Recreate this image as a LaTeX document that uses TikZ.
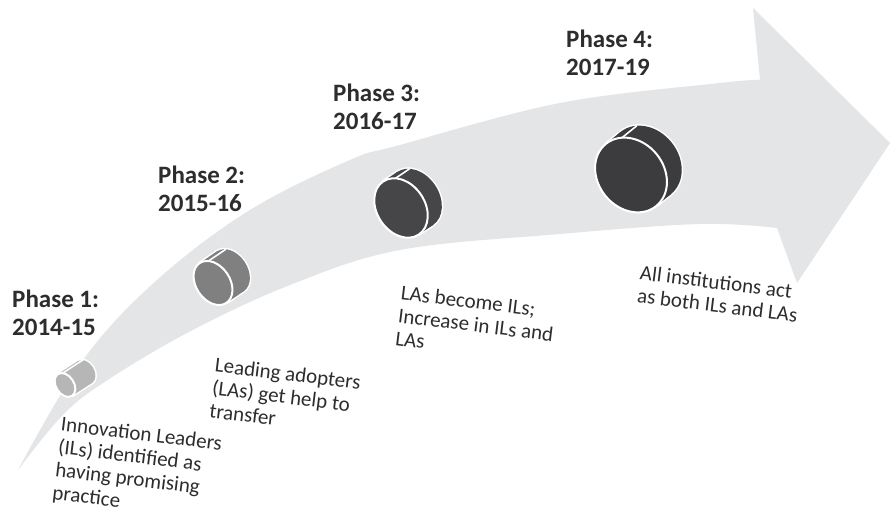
\documentclass[tikz,border=0pt]{standalone}
\usepackage{fontspec}
\setmainfont{Carlito}
\definecolor{arrowgray}{RGB}{228,229,231}
\definecolor{textgray}{RGB}{45,45,45}
\definecolor{cylA}{RGB}{182,182,182}
\definecolor{cylB}{RGB}{128,128,128}
\definecolor{cylC}{RGB}{70,70,72}
\definecolor{cylD}{RGB}{60,60,62}
\newcommand\cylshape[7]{%
\begin{scope}[shift={(#1,#2)},rotate=#3]
 \draw[white,line width=3] (#4,0) ellipse [x radius=#5, y radius=#6];
 \draw[white,line width=3] (0,#6) -- (#4,#6) (0,-#6) -- (#4,-#6);
 \fill[#7] (#4,0) ellipse [x radius=#5, y radius=#6];
 \fill[#7] (0,-#6) rectangle (#4,#6);
 \filldraw[fill=#7, draw=white, line width=2] (0,0) ellipse [x radius=#5, y radius=#6];
 \draw[white, line width=1.6] ({#5*cos(60)},{#6*sin(60)}) -- ++(#4,0);
\end{scope}}
\begin{document}
\begin{tikzpicture}[x=1pt,y=1pt,
  phase/.style={font=\bfseries\fontsize{25}{28}\selectfont, text=textgray, align=left, inner sep=0, anchor=north west},
  desc/.style={font=\fontsize{21}{23}\selectfont, text=textgray, align=left, inner sep=0, anchor=north west, rotate=-7}]
\useasboundingbox (0,0) rectangle (890,513);
\fill[white] (0,0) rectangle (890,513);
% curved arrow
\fill[arrowgray] plot[smooth,tension=0.6] coordinates {(18,43) (83,153) (157,233) (250,303) (350,353) (400,368) (560,410) (720,430) (760,433)}
  -- (753,505) -- (890,370) -- (797,230) -- (777,285)
  -- plot[smooth,tension=0.6] coordinates {(777,285) (700,289) (560,279) (400,263) (290,228) (187,180) (100,128) (60,95) (18,43)} -- cycle;
% cylinders
\cylshape{65}{128}{33}{24}{9}{13}{cylA}
\cylshape{213}{230}{34}{21}{17}{24}{cylB}
\cylshape{401}{305}{34}{17}{24}{32}{cylC}
\cylshape{631}{338}{39}{19}{33}{40}{cylD}
% phase labels
\node[phase] (p1) at (12,223) {Phase 1:\\2014-15};
\node[phase] (p2) at (158,347) {Phase 2:\\2015-16};
\node[phase] (p3) at (333,429) {Phase 3:\\2016-17};
\node[phase] (p4) at (566,483) {Phase 4:\\2017-19};
% descriptions
\node[desc] (d1) at (62,97) {Innovation Leaders\\(ILs) identified as\\having promising\\practice};
\node[desc] (d2) at (216,156) {Leading adopters\\(LAs) get help to\\transfer};
\node[desc] (d3) at (402,228) {LAs become ILs;\\Increase in ILs and\\LAs};
\node[desc] (d4) at (641,248) {All institutions act\\as both ILs and LAs};
\end{tikzpicture}
\end{document}
